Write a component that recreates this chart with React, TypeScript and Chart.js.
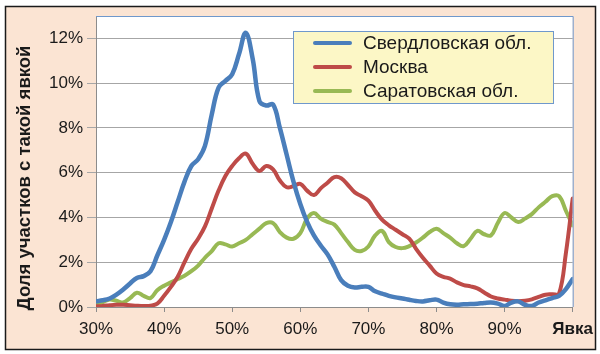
import React, { useEffect, useRef } from "react";
import { Chart, registerables } from "chart.js";

Chart.register(...registerables);

const turnout = [
  30, 31, 32, 33, 34, 35, 36, 37, 38, 39, 40, 41, 42, 43, 44, 45, 46, 47, 48, 49,
  50, 51, 52, 53, 54, 55, 56, 57, 58, 59, 60, 61, 62, 63, 64, 65, 66, 67, 68, 69,
  70, 71, 72, 73, 74, 75, 76, 77, 78, 79, 80, 81, 82, 83, 84, 85, 86, 87, 88, 89,
  90, 91, 92, 93, 94, 95, 96, 97, 98, 99, 100,
];

const sverdlovsk = [
  0.26, 0.3, 0.38, 0.55, 0.78, 1.05, 1.3, 1.38, 1.6, 2.3, 3.0, 3.8, 4.7, 5.6, 6.3, 6.6, 7.2, 8.6, 9.8, 10.1,
  10.4, 11.3, 12.25, 11.1, 9.2, 9.0, 9.05, 8.0, 6.8, 5.6, 4.6, 3.8, 3.2, 2.75, 2.35, 1.8, 1.2, 0.95, 0.87, 0.9,
  0.9, 0.7, 0.6, 0.5, 0.43, 0.38, 0.32, 0.27, 0.25, 0.3, 0.33, 0.2, 0.12, 0.1, 0.12, 0.13, 0.15, 0.18, 0.2, 0.15,
  0.05, 0.2, 0.25, 0.1, 0.05, 0.2, 0.3, 0.4, 0.5, 0.8, 1.25,
];

const moscow = [
  0.03, 0.05, 0.08, 0.1, 0.1, 0.08, 0.06, 0.05, 0.06, 0.15, 0.5, 0.9, 1.35, 2.0, 2.6, 3.05, 3.6, 4.4, 5.2, 5.85,
  6.3, 6.65, 6.85, 6.4, 6.08, 6.3, 6.15, 5.65, 5.35, 5.4, 5.5, 5.2, 5.0, 5.3, 5.55, 5.8, 5.75, 5.45, 5.12, 4.95,
  4.75, 4.3, 3.9, 3.65, 3.45, 3.25, 3.05, 2.6, 2.2, 1.85, 1.5, 1.35, 1.27, 1.1, 0.98, 0.92, 0.83, 0.65, 0.47, 0.38,
  0.33, 0.28, 0.26, 0.28, 0.34, 0.45, 0.55, 0.57, 0.6, 2.4, 4.85,
];

const saratov = [
  0.1, 0.22, 0.33, 0.28, 0.2, 0.4, 0.64, 0.5, 0.4, 0.75, 0.95, 1.1, 1.25, 1.4, 1.6, 1.85, 2.2, 2.5, 2.85, 2.8,
  2.7, 2.85, 3.0, 3.25, 3.5, 3.75, 3.75, 3.35, 3.1, 3.05, 3.3, 3.95, 4.2, 3.95, 3.8, 3.68, 3.3, 2.9, 2.55, 2.5,
  2.7, 3.2, 3.4, 2.9, 2.68, 2.63, 2.72, 2.88, 3.1, 3.35, 3.5, 3.3, 3.1, 2.85, 2.72, 3.05, 3.4, 3.25, 3.2, 3.75,
  4.2, 4.0, 3.8, 3.95, 4.15, 4.45, 4.7, 4.95, 4.95, 4.3, 3.65,
];

const seriesNames = ["Свердловская обл.", "Москва", "Саратовская обл."];
const seriesColors = ["#4a7ebb", "#be4b48", "#98b954"];
const yTicks = [0, 2, 4, 6, 8, 10, 12];
const xTicks = [30, 40, 50, 60, 70, 80, 90, 100];
const xLastLabel = "Явка";
const yTitle = "Доля участков с такой явкой";

const FONT = "'Liberation Sans', Arial, Helvetica, sans-serif";

const framePlugin = {
  id: "frame",
  beforeDraw(chart: any) {
    const { ctx, width, height, chartArea } = chart;
    ctx.save();
    ctx.fillStyle = "#ffffff";
    ctx.fillRect(0, 0, width, height);
    ctx.fillStyle = "#fbe4d3";
    ctx.fillRect(5, 6, 591, 344);
    ctx.strokeStyle = "#1a1a1a";
    ctx.lineWidth = 1.5;
    ctx.strokeRect(5.5, 6.5, 590, 343);
    ctx.fillStyle = "#ffffff";
    ctx.fillRect(chartArea.left, chartArea.top, chartArea.right - chartArea.left, chartArea.bottom - chartArea.top);
    // y title
    ctx.translate(25, 178);
    ctx.rotate(-Math.PI / 2);
    ctx.fillStyle = "#1a1a1a";
    ctx.font = `bold 18.5px ${FONT}`;
    ctx.textAlign = "center";
    ctx.textBaseline = "middle";
    ctx.fillText(yTitle, 0, 0);
    ctx.restore();
  },
  afterDatasetsDraw(chart: any) {
    const { ctx, chartArea } = chart;
    ctx.save();
    // plot border (top/right) in light blue
    ctx.strokeStyle = "#6f98cc";
    ctx.lineWidth = 1;
    ctx.beginPath();
    ctx.moveTo(chartArea.left, chartArea.top + 0.5);
    ctx.lineTo(chartArea.right + 0.5, chartArea.top + 0.5);
    ctx.lineTo(chartArea.right + 0.5, chartArea.bottom);
    ctx.stroke();
    // legend box
    const bx = 293, by = 31, bw = 260, bh = 72;
    ctx.fillStyle = "#fcf7c6";
    ctx.fillRect(bx, by, bw, bh);
    ctx.strokeStyle = "#6f98cc";
    ctx.strokeRect(bx + 0.5, by + 0.5, bw, bh);
    const rows = [43, 67, 91];
    chart.data.datasets.forEach((ds: any, i: number) => {
      ctx.strokeStyle = ds.borderColor;
      ctx.lineWidth = 4;
      ctx.lineCap = "round";
      ctx.beginPath();
      ctx.moveTo(315, rows[i]);
      ctx.lineTo(350, rows[i]);
      ctx.stroke();
      ctx.fillStyle = "#1a1a1a";
      ctx.font = `19px ${FONT}`;
      ctx.textAlign = "left";
      ctx.textBaseline = "middle";
      ctx.fillText(ds.label, 363, rows[i] + 1);
    });
    ctx.restore();
  },
};

export default function App() {
  const ref = useRef<HTMLCanvasElement | null>(null);
  useEffect(() => {
    document.body.style.margin = "0";
    const canvas = ref.current!;
    const values = [sverdlovsk, moscow, saratov];
    const chart = new Chart(canvas, {
      type: "line",
      data: {
        labels: turnout,
        datasets: values.map((vals, i) => ({
          label: seriesNames[i],
          data: vals.map((v, j) => ({ x: turnout[j], y: v })),
          borderColor: seriesColors[i],
          backgroundColor: seriesColors[i],
          borderWidth: i === 0 ? 4.5 : 4,
          pointRadius: 0,
          tension: 0.4,
          fill: false,
          borderCapStyle: "round",
          borderJoinStyle: "round",
        })),
      },
      options: {
        animation: false,
        responsive: false,
        maintainAspectRatio: false,
        layout: { padding: { left: 0, top: 16, right: 25, bottom: 0 } },
        plugins: { legend: { display: false }, tooltip: { enabled: false } },
        scales: {
          x: {
            type: "linear",
            min: 30,
            max: 100,
            afterFit: (s: any) => { s.height = 47; },
            afterBuildTicks: (s: any) => { s.ticks = xTicks.map((v) => ({ value: v })); },
            grid: { drawOnChartArea: false, drawTicks: true, tickLength: 5, color: "#8c8c8c" },
            border: { color: "#8c8c8c", width: 1 },
            ticks: {
              padding: 7,
              color: "#1a1a1a",
              maxRotation: 0,
              autoSkip: false,
              font: (c: any) => ({
                family: FONT,
                size: 17,
                weight: c.tick && c.tick.value === 100 ? "bold" : "normal",
              }),
              callback: (v: any) => (v === 100 ? xLastLabel : v + "%"),
            },
          },
          y: {
            min: 0,
            max: 13,
            afterFit: (s: any) => { s.width = 96; },
            afterBuildTicks: (s: any) => { s.ticks = yTicks.map((v) => ({ value: v })); },
            grid: { color: "#a6a6a6", drawTicks: true, tickLength: 9, lineWidth: 1 },
            border: { color: "#8c8c8c", width: 1 },
            ticks: {
              padding: 4,
              color: "#1a1a1a",
              font: { family: FONT, size: 17 },
              callback: (v: any) => v + "%",
            },
          },
        },
      },
      plugins: [framePlugin],
    });
    return () => chart.destroy();
  }, []);
  return (
    <div style={{ position: "absolute", left: 0, top: 0, width: 600, height: 354 }}>
      <canvas ref={ref} width={600} height={354} style={{ width: 600, height: 354, display: "block" }} />
    </div>
  );
}
